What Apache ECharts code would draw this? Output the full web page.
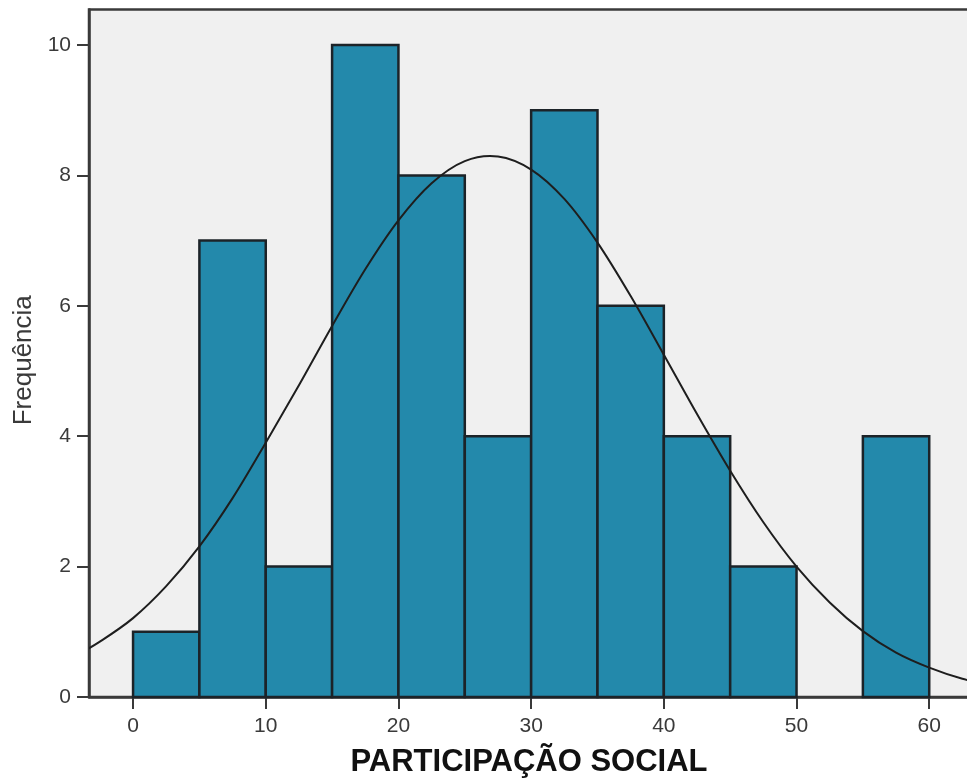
<!DOCTYPE html>
<html>
<head>
<meta charset="utf-8">
<script src="https://cdn.jsdelivr.net/npm/echarts@6/dist/echarts.min.js"></script>
<style>
  html, body { margin: 0; padding: 0; background: #ffffff; }
  #chart { width: 967px; height: 780px; }
</style>
</head>
<body>
<div id="chart"></div>
<script>
// Histogram bins of PARTICIPAÇÃO SOCIAL (width 5) and their counts
const binStarts = [0, 5, 10, 15, 20, 25, 30, 35, 40, 45, 50, 55];
const binEnds   = [5, 10, 15, 20, 25, 30, 35, 40, 45, 50, 55, 60];
const counts    = [1, 7, 2, 10, 8, 4, 9, 6, 4, 2, 0, 4];

// Normal curve overlay, sampled points (x, frequency); ends run past the plot and are clipped
const curveX = [-5, -2.5, 0, 2.5, 5, 7.5, 10, 12.5, 15, 17.5, 20, 22.5, 25, 27.5, 30, 32.5,
                35, 37.5, 40, 42.5, 45, 47.5, 50, 52.5, 55, 57.5, 60, 62.5, 65];
const curveY = [0.55, 0.85, 1.21, 1.70, 2.31, 3.05, 3.90, 4.78, 5.69, 6.56, 7.31, 7.88, 8.22, 8.29, 8.09, 7.64,
                6.97, 6.15, 5.25, 4.34, 3.47, 2.68, 2.00, 1.45, 1.01, 0.68, 0.45, 0.28, 0.17];

// Axis ticks and titles
const xTicks = [0, 10, 20, 30, 40, 50, 60];
const yTicks = [0, 2, 4, 6, 8, 10];
const xTitle = 'PARTICIPAÇÃO SOCIAL';
const yTitle = 'Frequência';

const FONT = '"Liberation Sans", Arial, sans-serif';

const barData = binStarts.map((s, i) => [s, binEnds[i], counts[i]]);
const curveData = curveX.map((x, i) => [x, curveY[i]]);

// Smooth path (Catmull-Rom as cubic Béziers) through the curve points, in pixel space
function curvePath(api) {
  const pts = curveData.map(d => api.coord(d));
  let d = 'M' + pts[0][0] + ' ' + pts[0][1];
  for (let i = 0; i < pts.length - 1; i++) {
    const p0 = pts[Math.max(i - 1, 0)];
    const p1 = pts[i];
    const p2 = pts[i + 1];
    const p3 = pts[Math.min(i + 2, pts.length - 1)];
    const c1x = p1[0] + (p2[0] - p0[0]) / 6, c1y = p1[1] + (p2[1] - p0[1]) / 6;
    const c2x = p2[0] - (p3[0] - p1[0]) / 6, c2y = p2[1] - (p3[1] - p1[1]) / 6;
    d += ' C' + c1x + ' ' + c1y + ' ' + c2x + ' ' + c2y + ' ' + p2[0] + ' ' + p2[1];
  }
  return d;
}

const chart = echarts.init(document.getElementById('chart'), null, { renderer: 'canvas' });

chart.setOption({
  animation: false,
  backgroundColor: '#ffffff',
  grid: {
    left: 89,
    top: 9.5,
    right: -10,
    bottom: 83,
    containLabel: false,
    outerBoundsMode: 'none',
    show: true,
    backgroundColor: '#f0f0f0',
    borderColor: '#3a3a3a',
    borderWidth: 2.5
  },
  xAxis: {
    type: 'value',
    min: -3.32,
    max: 63.6,
    name: xTitle,
    nameLocation: 'middle',
    nameGap: 50,
    nameTextStyle: { fontFamily: FONT, fontSize: 31, fontWeight: 'bold', color: '#111', padding: [0, 8, 0, 0] },
    splitLine: { show: false },
    axisLine: { show: true, onZero: false, lineStyle: { color: '#3a3a3a', width: 2.5 } },
    axisTick: { show: true, length: 12, customValues: xTicks, lineStyle: { color: '#3a3a3a', width: 2 } },
    axisLabel: {
      customValues: xTicks,
      margin: 19,
      fontFamily: FONT,
      fontSize: 21,
      color: '#3a3a3a'
    }
  },
  yAxis: {
    type: 'value',
    min: 0,
    max: 10.545,
    name: yTitle,
    nameLocation: 'middle',
    nameRotate: 90,
    nameGap: 50,
    nameTextStyle: { fontFamily: FONT, fontSize: 26, color: '#3a3a3a', padding: [0, 14, 0, 0] },
    splitLine: { show: false },
    axisLine: { show: true, onZero: false, lineStyle: { color: '#3a3a3a', width: 2.5 } },
    axisTick: { show: true, length: 12, customValues: yTicks, lineStyle: { color: '#3a3a3a', width: 2 } },
    axisLabel: {
      customValues: yTicks,
      margin: 18,
      fontFamily: FONT,
      fontSize: 21,
      color: '#3a3a3a'
    }
  },
  series: [
    {
      type: 'custom',
      data: barData,
      encode: { x: [0, 1], y: 2 },
      renderItem: function (params, api) {
        const h = api.value(2);
        if (!h) return null;
        const p0 = api.coord([api.value(0), 0]);
        const p1 = api.coord([api.value(1), h]);
        return {
          type: 'rect',
          shape: { x: p0[0], y: p1[1], width: p1[0] - p0[0], height: p0[1] - p1[1] },
          style: { fill: '#2389ab', stroke: '#1c2328', lineWidth: 2.5 }
        };
      },
      z: 2
    },
    {
      type: 'custom',
      data: curveData,
      encode: { x: 0, y: 1 },
      clip: true,
      renderItem: function (params, api) {
        if (params.dataIndex !== 0) return null;
        return {
          type: 'path',
          shape: { pathData: curvePath(api) },
          style: { fill: 'none', stroke: '#1e1e1e', lineWidth: 2 }
        };
      },
      z: 3
    }
  ]
});
</script>
</body>
</html>
